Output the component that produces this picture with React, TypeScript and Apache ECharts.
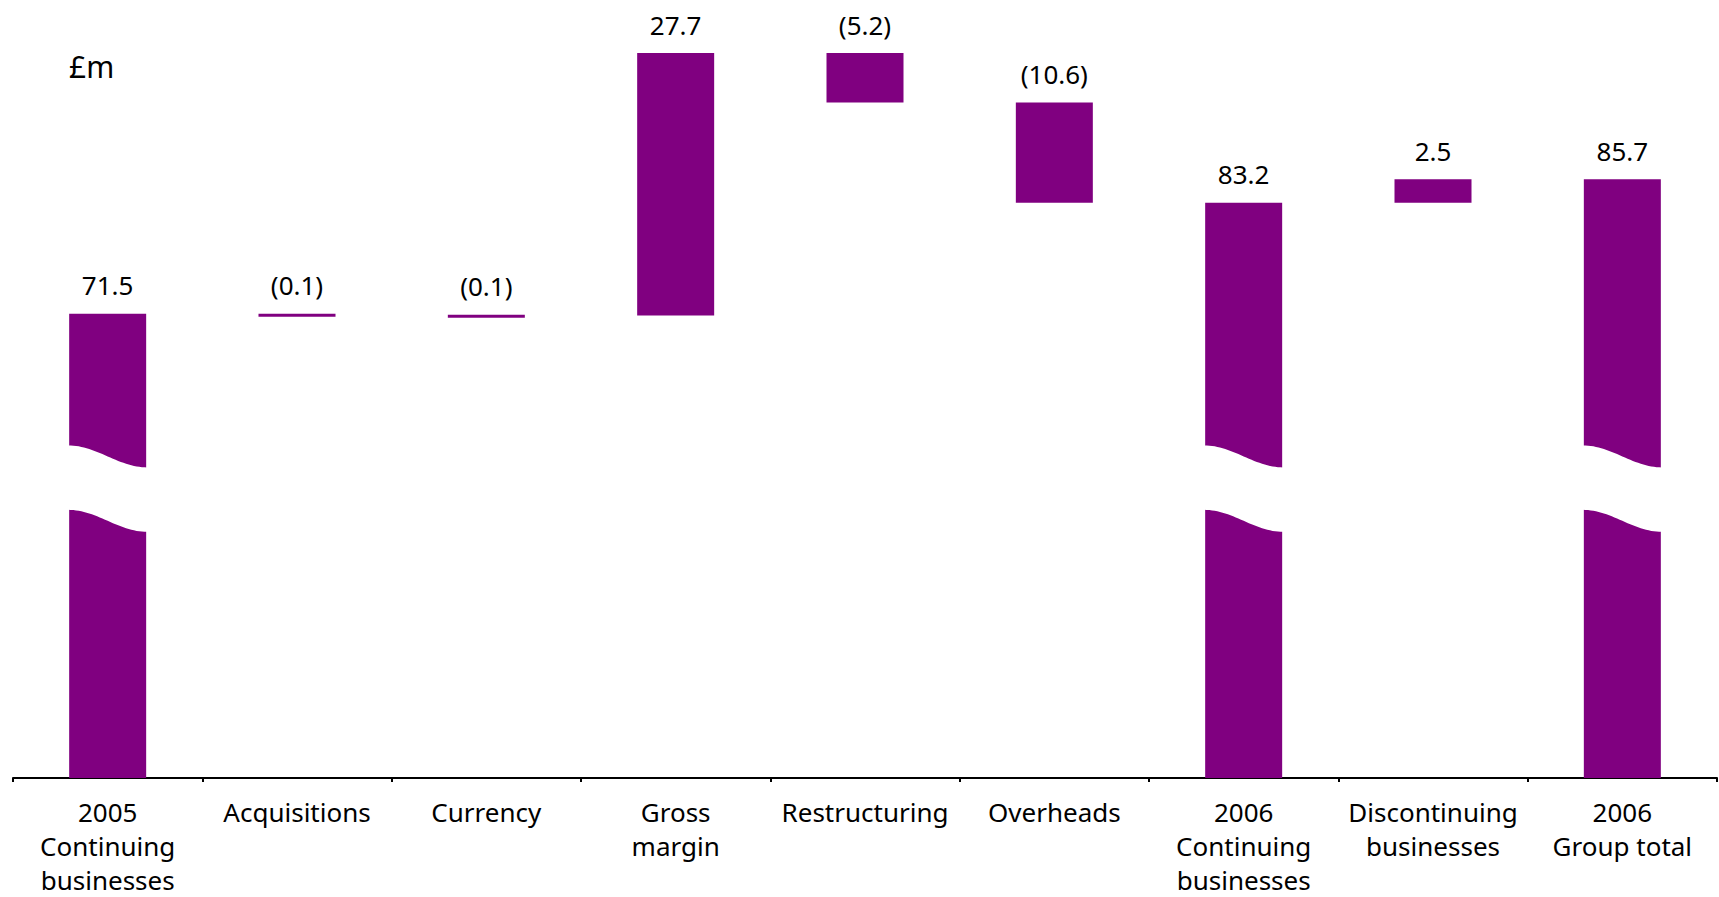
import React, { useEffect, useRef } from "react";
import * as echarts from "echarts";

// ---- data ----
const categories = [
  "2005\nContinuing\nbusinesses",
  "Acquisitions",
  "Currency",
  "Gross\nmargin",
  "Restructuring",
  "Overheads",
  "2006\nContinuing\nbusinesses",
  "Discontinuing\nbusinesses",
  "2006\nGroup total",
];
const changes = [71.5, -0.1, -0.1, 27.7, -5.2, -10.6, 83.2, 2.5, 85.7];
const isTotal = [true, false, false, false, false, false, true, false, true];
const valueLabels = ["71.5", "(0.1)", "(0.1)", "27.7", "(5.2)", "(10.6)", "83.2", "2.5", "85.7"];
const unitLabel = "£m";

// axis (truncated, shown with break marks on the total bars)
const Y_MIN = 22.5;
const Y_MAX = 104.5;
const BREAK_TOP = 57.6;
const BREAK_BOTTOM = 50.8;

const PURPLE = "#800080";
const FONT = '"Noto Sans", "Open Sans", sans-serif';
const BAR_W = 77;
const MIN_H = 3;
const WAVE_DROP = 22;
const LABEL_GAP = 15.5;

function buildRows() {
  const rows: number[][] = [];
  let running = 0;
  changes.forEach((v, i) => {
    if (isTotal[i]) {
      running = v;
      rows.push([i, 0, v]);
    } else {
      const next = running + v;
      rows.push([i, Math.min(running, next), Math.max(running, next)]);
      running = next;
    }
  });
  return rows;
}

export default function App() {
  const ref = useRef<HTMLDivElement>(null);

  useEffect(() => {
    if (!ref.current) return;
    const chart = echarts.init(ref.current, undefined, { renderer: "svg" });
    const rows = buildRows();

    const renderItem = (params: any, api: any) => {
      const i = api.value(0);
      const low = api.value(1);
      const high = api.value(2);
      const cs = params.coordSys;
      const pTop = api.coord([i, high]);
      const pBot = api.coord([i, low]);
      const cx = pTop[0];
      let top = pTop[1];
      let bottom = Math.min(pBot[1], cs.y + cs.height);
      if (bottom - top < MIN_H) bottom = top + MIN_H;
      const children: any[] = [
        {
          type: "rect",
          shape: { x: cx - BAR_W / 2, y: top, width: BAR_W, height: bottom - top },
          style: { fill: PURPLE },
        },
      ];
      if (isTotal[params.dataIndex]) {
        const yT = api.coord([i, BREAK_TOP])[1];
        const yB = api.coord([i, BREAK_BOTTOM])[1];
        const L = cx - BAR_W / 2 - 1;
        const R = cx + BAR_W / 2 + 1;
        const N = 30;
        const pts: number[][] = [];
        for (let k = 0; k <= N; k++) {
          const t = k / N;
          pts.push([L + t * (R - L), yT + (WAVE_DROP * (1 - Math.cos(Math.PI * t))) / 2]);
        }
        for (let k = N; k >= 0; k--) {
          const t = k / N;
          pts.push([L + t * (R - L), yB + (WAVE_DROP * (1 - Math.cos(Math.PI * t))) / 2]);
        }
        children.push({
          type: "polygon",
          shape: { points: pts },
          style: { fill: "#ffffff" },
        });
      }
      children.push({
        type: "text",
        style: {
          text: valueLabels[params.dataIndex],
          x: cx,
          y: top - LABEL_GAP,
          align: "center",
          verticalAlign: "bottom",
          font: `26px ${FONT}`,
          fill: "#000",
        },
      });
      return { type: "group", children };
    };

    chart.setOption({
      animation: false,
      backgroundColor: "#fff",
      grid: { left: 13, right: 2, top: 1, bottom: 116, containLabel: false },
      xAxis: {
        type: "category",
        data: categories,
        boundaryGap: true,
        axisLine: { show: true, lineStyle: { color: "#000", width: 2 } },
        axisTick: { show: true, length: 4, lineStyle: { color: "#000", width: 2 } },
        axisLabel: {
          interval: 0,
          margin: 17,
          fontSize: 26,
          lineHeight: 34,
          fontFamily: FONT,
          color: "#000",
          align: "center",
        },
        splitLine: { show: false },
      },
      yAxis: {
        type: "value",
        min: Y_MIN,
        max: Y_MAX,
        show: false,
        splitLine: { show: false },
      },
      graphic: [
        {
          type: "text",
          left: 69,
          top: 51,
          style: {
            text: unitLabel,
            font: `30px ${FONT}`,
            fill: "#000",
          },
        },
      ],
      series: [
        {
          type: "custom",
          renderItem,
          data: rows,
          encode: { x: 0, y: [1, 2] },
          clip: false,
        },
      ],
    });

    return () => chart.dispose();
  }, []);

  return (
    <div
      ref={ref}
      style={{ position: "absolute", left: 0, top: 0, width: 1719, height: 897, background: "#fff" }}
    />
  );
}
